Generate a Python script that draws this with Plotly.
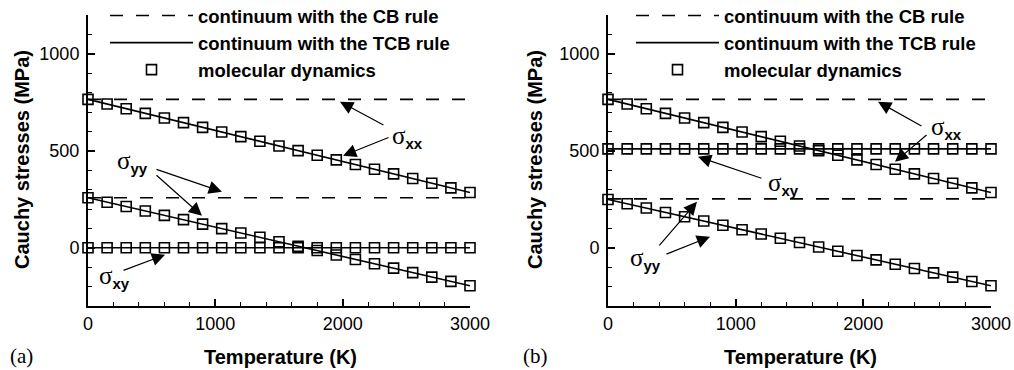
import plotly.graph_objects as go

# ---- data -------------------------------------------------------------
# molecular dynamics sampling temperatures (K)
temps_md = [0, 150, 300, 450, 600, 750, 900, 1050, 1200, 1350, 1500,
            1650, 1800, 1950, 2100, 2250, 2400, 2550, 2700, 2850, 3000]

# panel (a): MD stresses (MPa)
a_md_xx = [765, 741, 717, 693, 669, 645, 621, 597, 573, 549, 525,
           501, 477, 453, 429, 405, 381, 357, 333, 309, 285]
a_md_yy = [258, 235, 213, 190, 167, 145, 122, 99, 76, 54, 31,
           8, -14, -37, -60, -82, -105, -128, -151, -173, -196]
a_md_xy = [0, 0, 0, 0, 0, 0, 0, 0, 0, 0, 0,
           0, 0, 0, 0, 0, 0, 0, 0, 0, 0]

# panel (b): MD stresses (MPa)
b_md_xx = [765, 741, 717, 693, 669, 645, 621, 597, 573, 549, 525,
           501, 477, 453, 429, 405, 381, 357, 333, 309, 285]
b_md_yy = [249, 227, 205, 182, 160, 138, 116, 93, 71, 49, 27,
           4, -18, -40, -62, -85, -107, -129, -151, -174, -196]
b_md_xy = [510, 510, 510, 510, 510, 510, 510, 510, 510, 510, 510,
           510, 510, 510, 510, 510, 510, 510, 510, 510, 510]

# continuum predictions
temps_cont = [0, 500, 1000, 1500, 2000, 2500, 3000]
a_tcb_xx = [765, 685, 605, 525, 445, 365, 285]
a_tcb_yy = [258, 182, 107, 31, -45, -120, -196]
a_tcb_xy = [0, 0, 0, 0, 0, 0, 0]
b_tcb_xx = [765, 685, 605, 525, 445, 365, 285]
b_tcb_yy = [249, 175, 101, 27, -48, -122, -196]
b_tcb_xy = [510, 510, 510, 510, 510, 510, 510]

# Cauchy-Born rule: temperature independent
temps_cb = [0, 3000]
a_cb_xx = [765, 765]
a_cb_yy = [258, 258]
b_cb_xx = [765, 765]
b_cb_yy = [252, 252]

LEG_CB = "continuum with the CB rule"
LEG_TCB = "continuum with the TCB rule"
LEG_MD = "molecular dynamics"

SANS = "Liberation Sans, Arial, Helvetica, sans-serif"
SERIF = "Liberation Serif, Times New Roman, serif"

fig = go.Figure()


def add_panel(xa, ya, leg, cb, tcb, md):
    # dashed CB lines
    for i, yv in enumerate(cb):
        fig.add_trace(go.Scatter(
            x=temps_cb, y=yv, mode="lines", xaxis=xa, yaxis=ya,
            line=dict(color="black", width=1.6, dash="13px,13px"),
            name=LEG_CB, legend=leg, legendgroup=leg + "cb",
            showlegend=(i == 0), hoverinfo="skip"))
    # solid TCB lines
    for i, yv in enumerate(tcb):
        fig.add_trace(go.Scatter(
            x=temps_cont, y=yv, mode="lines", xaxis=xa, yaxis=ya,
            line=dict(color="black", width=1.6),
            name=LEG_TCB, legend=leg, legendgroup=leg + "tcb",
            showlegend=(i == 0), hoverinfo="skip"))
    # MD squares
    for i, yv in enumerate(md):
        fig.add_trace(go.Scatter(
            x=temps_md, y=yv, mode="markers", xaxis=xa, yaxis=ya,
            marker=dict(symbol="square-open", size=10, color="black",
                        line=dict(width=1.6, color="black")),
            cliponaxis=False,
            name=LEG_MD, legend=leg, legendgroup=leg + "md",
            showlegend=(i == 0)))


add_panel("x", "y", "legend", [a_cb_xx, a_cb_yy],
          [a_tcb_xx, a_tcb_yy, a_tcb_xy], [a_md_xx, a_md_yy, a_md_xy])
add_panel("x2", "y2", "legend2", [b_cb_xx, b_cb_yy],
          [b_tcb_xx, b_tcb_yy, b_tcb_xy], [b_md_xx, b_md_yy, b_md_xy])

W, H = 1014, 370
ydom = [64 / H, 355 / H]

xaxis_common = dict(
    range=[0, 3000], dtick=1000, tick0=0, ticks="inside", ticklen=7,
    tickwidth=1.5, tickcolor="black", showline=True, linewidth=2,
    linecolor="black", showgrid=False, zeroline=False,
    tickfont=dict(family=SANS, size=18, color="black"),
    minor=dict(dtick=200, ticks="inside", ticklen=4, tickwidth=1.2,
               tickcolor="black", showgrid=False),
)
yaxis_common = dict(
    range=[-300, 1200], dtick=500, tick0=0, ticks="inside", ticklen=7,
    tickwidth=1.5, tickcolor="black", showline=True, linewidth=2,
    linecolor="black", showgrid=False, zeroline=False,
    tickfont=dict(family=SANS, size=18, color="black"),
    ticklabelstandoff=3,
    minor=dict(dtick=100, ticks="inside", ticklen=4, tickwidth=1.2,
               tickcolor="black", showgrid=False),
)

legend_common = dict(
    bgcolor="rgba(0,0,0,0)", borderwidth=0, itemwidth=83,
    font=dict(family=SANS, size=18.5, color="black", weight="bold"),
    tracegroupgap=0, xanchor="left", yanchor="top", y=1 + 3 / H,
    itemclick=False, itemdoubleclick=False,
)

fig.update_layout(
    width=W, height=H,
    margin=dict(l=0, r=0, t=0, b=0, autoexpand=False),
    paper_bgcolor="white", plot_bgcolor="white",
    xaxis=dict(domain=[88 / W, 470 / W], anchor="y", **xaxis_common),
    yaxis=dict(domain=ydom, anchor="x", **yaxis_common),
    xaxis2=dict(domain=[608 / W, 991 / W], anchor="y2", **xaxis_common),
    yaxis2=dict(domain=ydom, anchor="x2", **yaxis_common),
    legend=dict(x=105 / W, **legend_common),
    legend2=dict(x=631 / W, **legend_common),
    showlegend=True,
)


def sig(sub):
    return ('σ<sub><span style="font-family:Liberation Sans;'
            'font-weight:bold;font-size:15px">' + sub + '</span></sub>')


def paper_text(xp, yp, text, font, angle=0):
    return dict(x=xp / W, y=1 - yp / H, xref="paper", yref="paper",
                xanchor="center", yanchor="middle", text=text,
                textangle=angle, showarrow=False, font=font)


annos = []
title_font = dict(family=SANS, size=20, color="black")
# axis titles
for xc, xt in [(280, 22), (800, 535)]:
    annos.append(paper_text(xc, 357, "<b>Temperature (K)</b>", title_font))
    annos.append(paper_text(xt, 160, "<b>Cauchy stresses (MPa)</b>",
                            title_font, angle=-90))
# panel tags
tag_font = dict(family=SERIF, size=21, color="black")
annos.append(paper_text(21, 356, "(a)", tag_font))
annos.append(paper_text(535, 356, "(b)", tag_font))

lab_font = dict(family=SERIF, size=25, color="black")
# component labels: (x axis, y axis, T, stress, subscript)
labels = [
    ("x", "y", 2513, 572, "xx"),
    ("x", "y", 353, 440, "yy"),
    ("x", "y", 212, -150, "xy"),
    ("x2", "y2", 2652, 620, "xx"),
    ("x2", "y2", 1375, 330, "xy"),
    ("x2", "y2", 290, -57, "yy"),
]
for xa, ya, t, s, sub in labels:
    annos.append(dict(x=t, y=s, xref=xa, yref=ya, text=sig(sub),
                      xanchor="center", yanchor="middle",
                      showarrow=False, font=lab_font))

# arrows: (x axis, y axis, tail T, tail stress, tip T, tip stress)
arrows = [
    ("x", "y", 2332, 629, 1979, 753),
    ("x", "y", 2372, 572, 2003, 474),
    ("x", "y", 526, 407, 1052, 289),
    ("x", "y", 526, 381, 895, 165),
    ("x", "y", 267, -119, 605, -36),
    ("x2", "y2", 2467, 624, 2115, 753),
    ("x2", "y2", 2507, 588, 2248, 443),
    ("x2", "y2", 1214, 356, 705, 469),
    ("x2", "y2", 392, 5, 697, 237),
    ("x2", "y2", 446, -36, 799, 57),
]
for xa, ya, tx, ty, hx, hy in arrows:
    annos.append(dict(x=hx, y=hy, xref=xa, yref=ya, ax=tx, ay=ty,
                      axref=xa, ayref=ya, text="", showarrow=True,
                      arrowhead=2, arrowsize=2.2, arrowwidth=1.2,
                      arrowcolor="black", standoff=0, startstandoff=0))

fig.update_layout(annotations=annos)

fig.write_html("out.html")
